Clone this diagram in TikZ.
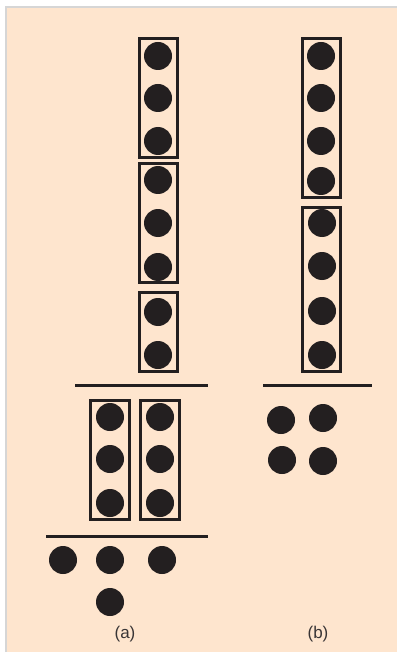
\documentclass[tikz,border=0pt]{standalone}
\usepackage{fontspec}
\setmainfont{Liberation Sans}
\usetikzlibrary{positioning}
\definecolor{peach}{RGB}{254,229,206}
\definecolor{frame}{RGB}{214,214,214}
\definecolor{ink}{RGB}{35,31,32}

\begin{document}
\begin{tikzpicture}[x=1pt,y=-1pt,
  dot/.style={circle,fill=ink,inner sep=0pt,minimum size=28pt},
  stickbox/.style={draw=ink,line width=3pt},
  barline/.style={draw=ink,line width=3pt},
  lbl/.style={font=\fontsize{17}{20}\selectfont,text=ink!90}]
% background and page frame
\fill[white] (0,0) rectangle (397,652);
\fill[frame] (5,6) rectangle (397,652);
\fill[peach] (7,8) rectangle (397,652);
\useasboundingbox (0,0) rectangle (397,652);

% (a) top: three sticks of 3, 3, 2
\foreach \y [count=\i] in {56,98,141,180,223,267,312,355}
  \node[dot] (at\i) at (158,\y) {};
\draw[stickbox] (139.5,38.5) rectangle (177.5,157.5);
\draw[stickbox] (139.5,163.5) rectangle (177.5,282.5);
\draw[stickbox] (139.5,292.5) rectangle (177.5,371.5);
\coordinate (a1l) at (75,385);
\coordinate (a1r) at (208,385);
\draw[barline] (a1l) -- (a1r);

% (a) middle: two sticks of 3
\foreach \y [count=\i] in {417,459,503}{
  \node[dot] (aml\i) at (110,\y) {};
  \node[dot] (amr\i) at (160,\y) {};
}
\draw[stickbox] (90.5,400.5) rectangle (129.5,519.5);
\draw[stickbox] (140.5,400.5) rectangle (179.5,519.5);
\coordinate (a2l) at (46,536);
\coordinate (a2r) at (208,536);
\draw[barline] (a2l) -- (a2r);

% (a) bottom: loose units
\node[dot] (ab1) at (63,560) {};
\node[dot] (ab2) at (110,560) {};
\node[dot] (ab3) at (162,560) {};
\node[dot] (ab4) at (110,602) {};
\node[lbl] (la) at (125,634) {(a)};

% (b) top: two sticks of 4
\foreach \y [count=\i] in {56,98,141,181}
  \node[dot] (bt\i) at (321,\y) {};
\foreach \y [count=\i] in {223,266,311,355}
  \node[dot] (bm\i) at (322,\y) {};
\draw[stickbox] (302.5,38.5) rectangle (340.5,197.5);
\draw[stickbox] (302.5,207.5) rectangle (340.5,371.5);
\coordinate (bl) at (263,385);
\coordinate (br) at (372,385);
\draw[barline] (bl) -- (br);

% (b) bottom: loose units
\node[dot] (bb1) at (281,420) {};
\node[dot] (bb2) at (323,418) {};
\node[dot] (bb3) at (282,460) {};
\node[dot] (bb4) at (323,461) {};
\node[lbl] (lb) at (318,634) {(b)};
\end{tikzpicture}
\end{document}
